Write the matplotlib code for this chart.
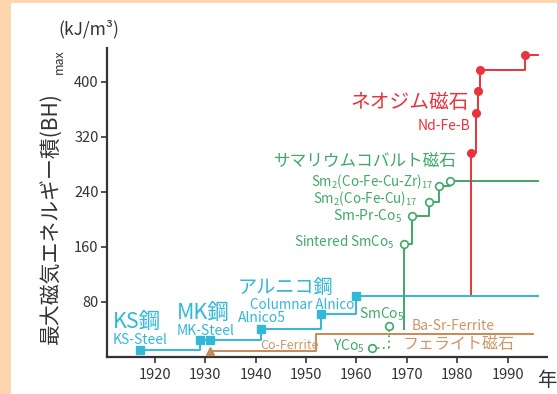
import matplotlib
matplotlib.use("Agg")
import matplotlib.pyplot as plt
from matplotlib.patches import Rectangle

plt.rcParams['font.family'] = ['Noto Sans CJK JP', 'DejaVu Sans']
plt.rcParams['mathtext.fontset'] = 'custom'
plt.rcParams['mathtext.rm'] = 'Noto Sans CJK JP'
plt.rcParams['mathtext.it'] = 'Noto Sans CJK JP'
plt.rcParams['mathtext.bf'] = 'Noto Sans CJK JP'

# ---- data ----
steel_years = [1917, 1929, 1931, 1941, 1953, 1960]
steel_vals = [10, 24, 24, 40, 62, 88]
ferrite_years = [1931, 1952]
ferrite_vals = [8, 33]
yco_years = [1963, 1966.5]
yco_vals = [13, 45]
smco_years = [1969.4, 1971, 1974.4, 1976.4, 1978.5]
smco_vals = [164, 205, 225, 248, 256]
smco_base = 41
ndfeb_years = [1982.8, 1983.7, 1984.2, 1984.5, 1993.4]
ndfeb_vals = [296, 355, 387, 417, 439]
ndfeb_base = 92
end_year = 1996
ferrite_end = 1995

x_ticks = [1920, 1930, 1940, 1950, 1960, 1970, 1980, 1990]
y_ticks = [80, 160, 240, 320, 400]

C_CYAN = '#33B8D8'
C_GREEN = '#3FA968'
C_RED = '#E8343A'
C_BROWN = '#C98A55'
C_BROWN_T = '#CE9568'
C_AX = '#333333'

fig = plt.figure(figsize=(5.57, 3.94), dpi=100)
fig.patch.set_facecolor('#FDD6AE')
fig.patches.append(Rectangle((11/557, 0), 1, (394-3)/394, transform=fig.transFigure,
                             facecolor='white', edgecolor='none', zorder=-5))

ax = fig.add_axes([107/557, 37/394, 440/557, 309/394])
ax.set_zorder(2)
ax.set_facecolor('none')
ax.set_xlim(1910.5, 1997.8)
ax.set_ylim(0, 449)
for s in ['top', 'right']:
    ax.spines[s].set_visible(False)
for s in ['left', 'bottom']:
    ax.spines[s].set_color(C_AX)
    ax.spines[s].set_linewidth(1.6)
ax.set_xticks(x_ticks)
ax.set_yticks(y_ticks)
ax.tick_params(axis='both', colors=C_AX, labelsize=10.5, length=4, width=1.2)
ax.tick_params(axis='x', pad=4)
ax.tick_params(axis='y', pad=2)

# steel / alnico
ax.plot(steel_years + [end_year], steel_vals + [steel_vals[-1]], drawstyle='steps-post',
        color=C_CYAN, lw=1.4, zorder=3)
ax.plot(steel_years, steel_vals, ls='none', marker='s', ms=6, color=C_CYAN, zorder=4)

# ferrite
ax.plot(ferrite_years + [ferrite_end], ferrite_vals + [ferrite_vals[-1]], drawstyle='steps-post',
        color=C_BROWN, lw=1.4, zorder=3)
ax.plot(ferrite_years[:1], ferrite_vals[:1], ls='none', marker='^', ms=6, color=C_BROWN, zorder=4)

# YCo5 -> SmCo5 dotted
ax.plot(yco_years, [yco_vals[0], yco_vals[0]], color=C_GREEN, lw=1.3, ls=(0, (1, 2)), zorder=3)
ax.plot([yco_years[1], yco_years[1]], [yco_vals[0], yco_vals[1]], color=C_GREEN, lw=1.3,
        ls=(0, (1, 2)), zorder=3)
ax.plot(yco_years, yco_vals, ls='none', marker='o', ms=5.5, mfc='white', mec=C_GREEN, mew=1.2, zorder=4)

# SmCo
ax.plot([smco_years[0], smco_years[0]], [smco_base, smco_vals[0]], color=C_GREEN, lw=1.4, zorder=3)
ax.plot(smco_years + [end_year], smco_vals + [smco_vals[-1]], drawstyle='steps-post',
        color=C_GREEN, lw=1.4, zorder=3)
ax.plot(smco_years, smco_vals, ls='none', marker='o', ms=5.5, mfc='white', mec=C_GREEN, mew=1.2, zorder=4)

# NdFeB
ax.plot([ndfeb_years[0], ndfeb_years[0]], [ndfeb_base, ndfeb_vals[0]], color=C_RED, lw=1.4, zorder=3)
ax.plot(ndfeb_years + [end_year], ndfeb_vals + [ndfeb_vals[-1]], drawstyle='steps-post',
        color=C_RED, lw=1.4, zorder=3)
ax.plot(ndfeb_years, ndfeb_vals, ls='none', marker='o', ms=5.5, color=C_RED, zorder=4)

def t(x, y, s, c, fs, ha='left'):
    ax.text(x, y, s, color=c, fontsize=fs, ha=ha, va='center', zorder=5)

t(1911.7, 51, 'KS鋼', C_CYAN, 15.5)
t(1911.7, 24.7, 'KS-Steel', C_CYAN, 10)
t(1924.4, 64, 'MK鋼', C_CYAN, 15.5)
t(1924.4, 37.8, 'MK-Steel', C_CYAN, 10)
t(1936.5, 101, 'アルニコ鋼', C_CYAN, 13.8)
t(1938.8, 75.5, 'Columnar Alnico', C_CYAN, 9.7)
t(1936.5, 57, 'Alnico5', C_CYAN, 10)
t(1941, 16, 'Co-Ferrite', C_BROWN_T, 9)
t(1960.5, 62.5, r'SmCo$_{5}$', C_GREEN, 10)
t(1971, 45, 'Ba-Sr-Ferrite', C_BROWN_T, 10)
t(1969.2, 17.5, 'フェライト磁石', C_BROWN_T, 11.5)
t(1955.3, 16, r'YCo$_{5}$', C_GREEN, 10)
t(1967.6, 166, r'Sintered SmCo$_{5}$', C_GREEN, 9.7, 'right')
t(1969.0, 205, r'Sm-Pr-Co$_{5}$', C_GREEN, 10, 'right')
t(1972.0, 230, r'Sm$_{2}$(Co-Fe-Cu)$_{17}$', C_GREEN, 9.6, 'right')
t(1975.2, 254.5, r'Sm$_{2}$(Co-Fe-Cu-Zr)$_{17}$', C_GREEN, 9.6, 'right')
t(1979.9, 283.6, 'サマリウムコバルト磁石', C_GREEN, 12, 'right')
t(1982.3, 369.5, 'ネオジム磁石', C_RED, 14.2, 'right')
t(1982.5, 336, 'Nd-Fe-B', C_RED, 10, 'right')

# axis labels
fig.text(89/557, 1 - 29/394, '(kJ/m³)', fontsize=12.5, color=C_AX, ha='center', va='center')
fig.text(51/557, 1 - 218/394, '最大磁気エネルギー積(BH)', fontsize=15, color=C_AX,
         rotation=90, ha='center', va='center')
fig.text(59/557, 1 - 62/394, 'max', fontsize=9, color=C_AX, rotation=90, ha='center', va='center')
fig.text(547/557, 1 - 380/394, '年', fontsize=14, color=C_AX, ha='center', va='center')

fig.savefig('out.png', dpi=100, facecolor=fig.get_facecolor())
